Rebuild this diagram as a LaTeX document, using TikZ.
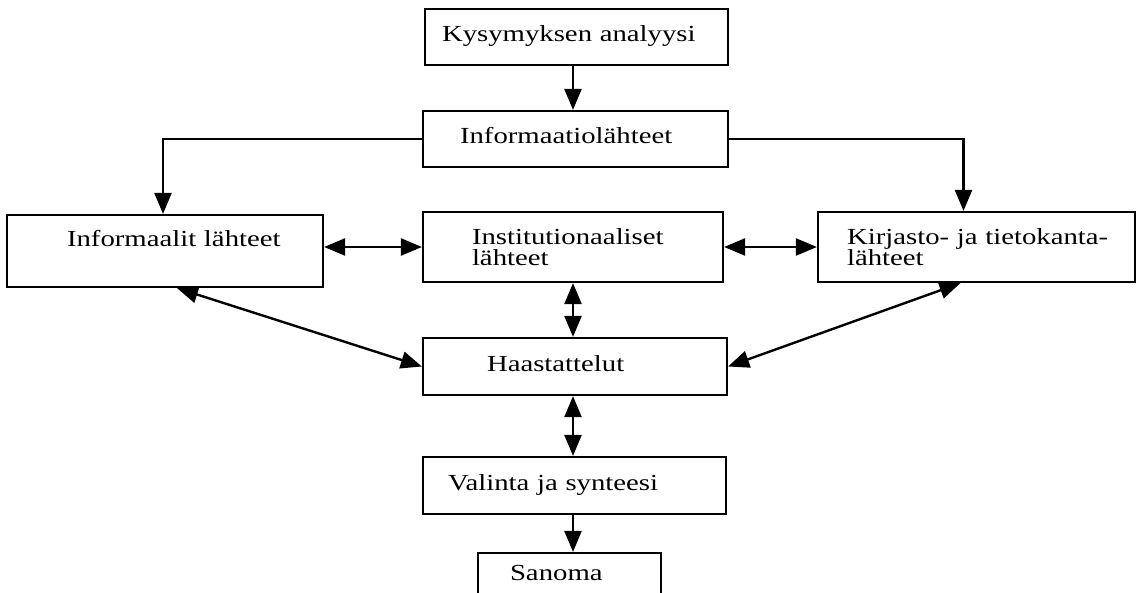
\documentclass[tikz,border=0pt]{standalone}
\usepackage{fontspec}
\setmainfont{Liberation Serif}[FakeStretch=1.25]
\usetikzlibrary{arrows.meta}

\begin{document}
\begin{tikzpicture}[x=1pt,y=-1pt,
  box/.style={draw,line width=2.2pt,inner xsep=0pt,inner ysep=0pt,align=left,text width=#1},
  one/.style={text height=15pt,text depth=5pt},
  ind/.style={execute at begin node={\leftskip=#1}},
  arr/.style={line width=2.4pt,-{Triangle[length=21pt,width=17pt]}},
  darr/.style={line width=2.4pt,{Triangle[length=21pt,width=17pt]}-{Triangle[length=21pt,width=17pt]}},
  font=\fontsize{23pt}{21pt}\selectfont]
\useasboundingbox (0,0) rectangle (1141,593);
\draw (576.5,37) node[box=303pt,one,ind=17pt,minimum height=56pt] (q) {Kysymyksen analyysi};
\draw (575.5,139) node[box=305pt,one,ind=37pt,minimum height=56pt] (src) {Informaatiolähteet};
\draw (165,251) node[box=316pt,ind=60pt,minimum height=72pt,text height=15pt,text depth=23pt] (inf) {Informaalit lähteet};
\draw (573,247) node[box=300pt,ind=49pt,minimum height=70pt] (inst) {Institutionaaliset\\lähteet};
\draw (976.5,247) node[box=317pt,ind=29pt,minimum height=70pt] (lib) {Kirjasto- ja tietokanta-\\lähteet};
\draw (575,366.5) node[box=304pt,one,ind=64pt,minimum height=57pt] (haa) {Haastattelut};
\draw (574.5,485.5) node[box=303pt,one,ind=25pt,minimum height=57pt] (sel) {Valinta ja synteesi};
\draw (569.5,575) node[box=183pt,one,ind=32pt,minimum height=44pt] (msg) {Sanoma};
\draw[arr] (q.south -| inst) -- (src.north -| inst);
\draw[arr] (src.west) -| ([xshift=-2pt]inf.north);
\draw[arr] (src.east) -| ([xshift=-13pt]lib.north);
\draw[darr] (inf.east |- inst) -- (inst.west);
\draw[darr] (inst.east) -- (lib.west);
\draw[darr] (inst.south) -- (inst.south |- haa.north);
\draw[darr] ([xshift=12pt]inf.south) -- (haa.west);
\draw[darr] ([xshift=-16pt]lib.south) -- (haa.east);
\draw[darr] (haa.south -| inst) -- (sel.north -| inst);
\draw[arr] (sel.south -| inst) -- (msg.north -| inst);
\end{tikzpicture}
\end{document}
